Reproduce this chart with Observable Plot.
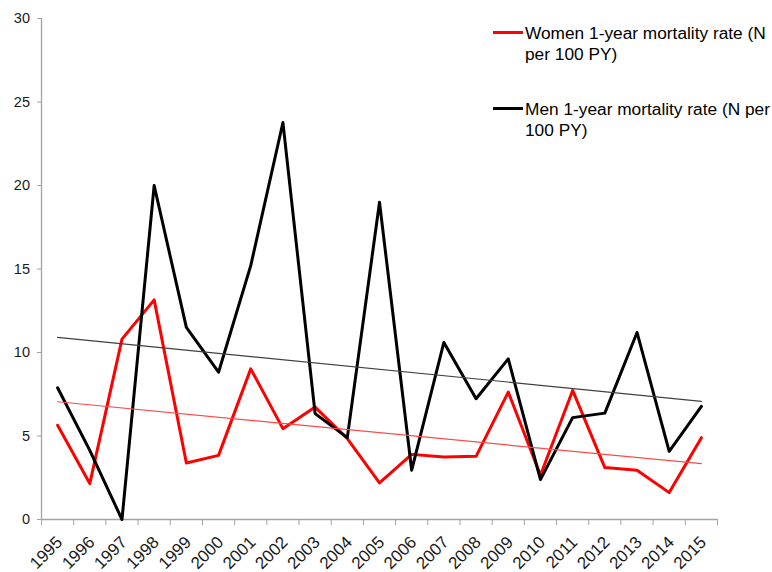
<!DOCTYPE html>
<html><head><meta charset="utf-8">
<script src="https://cdn.jsdelivr.net/npm/d3@7"></script>
<script src="https://cdn.jsdelivr.net/npm/@observablehq/plot@0.6"></script>
<style>
html,body{margin:0;padding:0;background:#fff;}
#wrap{position:relative;width:772px;height:572px;overflow:hidden;}
.item{position:absolute;left:493px;width:279px;}
.sw{position:absolute;left:0;width:30px;height:3px;}
.txt{position:absolute;left:32px;width:250px;font-family:"Liberation Sans",Arial,sans-serif;font-size:17.3px;line-height:21px;color:#000;}
</style></head><body>
<div id="wrap"></div>
<script>
const years = [1995,1996,1997,1998,1999,2000,2001,2002,2003,2004,2005,2006,2007,2008,2009,2010,2011,2012,2013,2014,2015];
const women = [5.64,2.15,10.8,13.15,3.38,3.84,9.02,5.44,6.73,4.84,2.19,3.9,3.74,3.78,7.63,2.65,7.73,3.11,2.95,1.61,4.9];
const men = [7.89,4.14,0,20.0,11.5,8.82,15.2,23.77,6.34,4.9,19.0,2.95,10.6,7.23,9.62,2.39,6.1,6.37,11.2,4.08,6.77];
const yTicks = [0,5,10,15,20,25,30];
const seriesNames = ["Women 1-year mortality rate (N per 100 PY)","Men 1-year mortality rate (N per 100 PY)"];
const seriesColors = ["#ff0000","#000000"];
const trendColors = ["#ff4a4a","#404040"];

const womenRows = years.map((y,i)=>({year:y, rate:women[i]}));
const menRows = years.map((y,i)=>({year:y, rate:men[i]}));
const boundaries = years.map(y=>y-0.5).concat([years[years.length-1]+0.5]);
const axisGray = "#a3a3a3";

const chart = Plot.plot({
  width:772, height:572,
  marginLeft:41, marginRight:55, marginTop:18, marginBottom:53,
  x:{type:"linear", domain:[years[0]-0.5, years[years.length-1]+0.5]},
  y:{domain:[0,30]},
  style:{fontFamily:"Liberation Sans, Arial, sans-serif", background:"#fff", overflow:"visible"},
  marks:[
    Plot.ruleY([0], {stroke:axisGray, strokeWidth:1.3}),
    Plot.ruleX([years[0]-0.5], {stroke:axisGray, strokeWidth:1.3}),
    Plot.axisY({ticks:yTicks, tickSize:4, tickPadding:7.5, stroke:axisGray, fontSize:14.5, fill:"#1a1a1a", label:null}),
    Plot.axisX({ticks:boundaries, tickSize:6, tickFormat:()=>"", stroke:axisGray, label:null}),
    Plot.axisX({ticks:years, tickSize:0, tickPadding:20, tickRotate:-45, tickFormat:d=>String(d), fontSize:17, fill:"#1a1a1a", dx:2, label:null}),
    Plot.line(womenRows, {x:"year", y:"rate", stroke:seriesColors[0], strokeWidth:3}),
    Plot.line(menRows, {x:"year", y:"rate", stroke:seriesColors[1], strokeWidth:3}),
    Plot.linearRegressionY(womenRows, {x:"year", y:"rate", stroke:trendColors[0], strokeWidth:1.2, ci:0}),
    Plot.linearRegressionY(menRows, {x:"year", y:"rate", stroke:trendColors[1], strokeWidth:1.2, ci:0})
  ]
});
const wrap = document.getElementById("wrap");
wrap.appendChild(chart);

const legendTops = [22.5, 98.5];
seriesNames.forEach((name,i)=>{
  const item = document.createElement("div");
  item.className = "item";
  item.style.top = legendTops[i] + "px";
  const sw = document.createElement("div");
  sw.className = "sw";
  sw.style.top = "8.5px";
  sw.style.background = seriesColors[i];
  const tx = document.createElement("div");
  tx.className = "txt";
  tx.style.top = "0px";
  tx.textContent = name;
  item.appendChild(sw); item.appendChild(tx);
  wrap.appendChild(item);
});
</script>
</body></html>
